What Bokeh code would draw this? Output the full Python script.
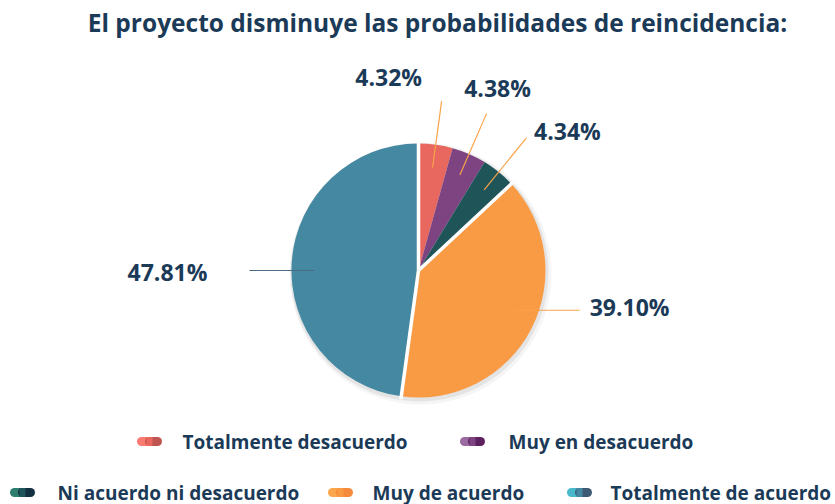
import math
from bokeh.plotting import figure
from bokeh.models import Range1d
from bokeh.core.properties import value
from bokeh.embed import file_html
from bokeh.resources import INLINE

# ---- data ----
title_text = "El proyecto disminuye las probabilidades de reincidencia:"
categories = ["Totalmente desacuerdo", "Muy en desacuerdo", "Ni acuerdo ni desacuerdo",
              "Muy de acuerdo", "Totalmente de acuerdo"]
values = [4.32, 4.38, 4.34, 39.10, 47.81]
colors = ["#e8675f", "#7e4482", "#1f5459", "#f99a45", "#4489a1"]
colors_light = ["#fb7a72", "#9a6aa0", "#2d7e6e", "#fba54c", "#48b8cb"]
colors_dark = ["#bf5550", "#5e2160", "#12303f", "#f68a3c", "#3d5a74"]

# ---- layout ----
W, H = 835, 504
CX, CY, R = 418, 234, 127
FONT = "Open Sans"
NAVY = "#1b3a57"
leader_kind = ["radial", "radial", "radial", "horizontal", "horizontal"]
leader_color = ["#f9a34a", "#f9a34a", "#f9a34a", "#f9a34a", "#4a6a85"]
leader_angle_shift_deg = [0, 0, 0, 4.9, 3.9]
label_offset = [(-53, 24), (11, 26), (41, 7), (50, 3), (-82, -1)]
# legend layout (x of swatch center, x of text start, y)
legend_pos = [(149, 182, 63), (472, 508, 63), (22, 57, 12), (340, 372, 12), (579, 610, 12)]

p = figure(width=W, height=H, output_backend="svg", toolbar_location=None,
           x_range=Range1d(0, W), y_range=Range1d(0, H), min_border=0)
p.axis.visible = False
p.grid.visible = False
p.outline_line_color = None
p.background_fill_color = "white"
p.border_fill_color = "white"

total = sum(values)
starts, ends, mids = [], [], []
acc = 0.0
for v in values:
    a0 = math.pi / 2 - acc / total * 2 * math.pi
    acc += v
    a1 = math.pi / 2 - acc / total * 2 * math.pi
    starts.append(a0)
    ends.append(a1)
    mids.append((a0 + a1) / 2)

# soft shadow
p.circle(x=[CX + 2], y=[CY - 3], radius=R + 4, fill_color="#999999", fill_alpha=0.10, line_color=None)
p.circle(x=[CX + 1], y=[CY - 2], radius=R + 2, fill_color="#888888", fill_alpha=0.15, line_color=None)

for i in range(len(values)):
    p.wedge(x=[CX], y=[CY], radius=R, start_angle=starts[i], end_angle=ends[i],
            direction="clock", fill_color=colors[i], line_color=None)

# white gaps at main boundaries
for a in [starts[0], ends[2], ends[3]]:
    p.segment(x0=[CX], y0=[CY], x1=[CX + (R + 3) * math.cos(a)], y1=[CY + (R + 3) * math.sin(a)],
              line_color="white", line_width=3.5)

# leader lines and labels
for i, v in enumerate(values):
    m = mids[i] + math.radians(leader_angle_shift_deg[i])
    x0, y0 = CX + 104 * math.cos(m), CY + 104 * math.sin(m)
    if leader_kind[i] == "radial":
        x1, y1 = CX + 171 * math.cos(m), CY + 171 * math.sin(m)
    else:
        x1 = x0 + (65 if math.cos(m) > 0 else -65)
        y1 = y0
    p.segment(x0=[x0], y0=[y0], x1=[x1], y1=[y1], line_color=leader_color[i], line_width=1.2)
    dx, dy = label_offset[i]
    p.text(x=[x1 + dx], y=[y1 + dy], text=[f"{v:.2f}%"], text_font=value(FONT),
           text_font_style="bold", text_font_size="23px", text_color=NAVY,
           text_align="center", text_baseline="middle")

# title
p.text(x=[437], y=[482], text=[title_text], text_font=value(FONT), text_font_style="bold",
       text_font_size="24.5px", text_color=NAVY, text_align="center", text_baseline="middle")

# legend
for i, cat in enumerate(categories):
    sx, tx, ly = legend_pos[i]
    p.segment(x0=[sx - 8], y0=[ly], x1=[sx], y1=[ly], line_color=colors_light[i],
              line_width=9, line_cap="round")
    p.segment(x0=[sx], y0=[ly], x1=[sx + 8], y1=[ly], line_color=colors_dark[i],
              line_width=9, line_cap="round")
    p.segment(x0=[sx - 3], y0=[ly], x1=[sx + 3], y1=[ly], line_color=colors[i],
              line_width=9)
    p.text(x=[tx], y=[ly], text=[cat], text_font=value(FONT), text_font_style="bold",
           text_font_size="19px", text_color=NAVY, text_align="left", text_baseline="middle")

open("out.html", "w").write(file_html(p, INLINE))
